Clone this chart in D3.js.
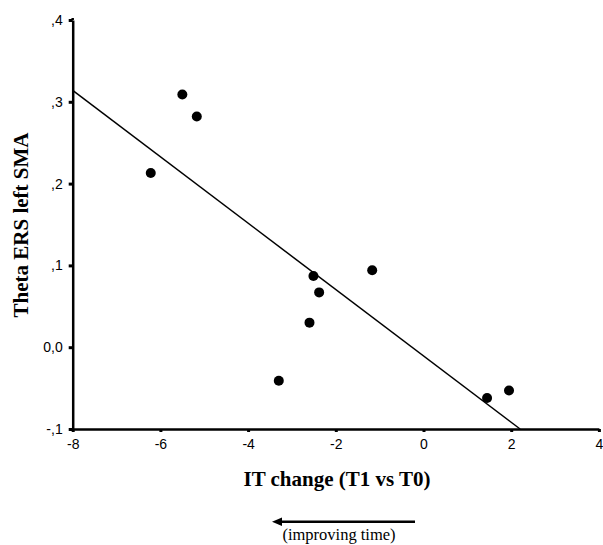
<!DOCTYPE html>
<html>
<head>
<meta charset="utf-8">
<script src="https://cdn.jsdelivr.net/npm/d3@7"></script>
<style>
  body { margin: 0; background: #fff; }
  .tick text { font-family: "Liberation Sans", Arial, sans-serif; font-size: 14px; fill: #000; }
</style>
</head>
<body>
<div id="chart"></div>
<script>
// values
var itChange = [-6.22, -5.50, -5.17, -2.51, -2.38, -2.60, -3.30, -1.17, 1.45, 1.95];
var thetaErs = [0.213, 0.309, 0.282, 0.087, 0.067, 0.030, -0.041, 0.094, -0.062, -0.053];

var xTicks = [-8, -6, -4, -2, 0, 2, 4];
var xTickLabels = ["-8", "-6", "-4", "-2", "0", "2", "4"];
var yTicks = [-0.1, 0, 0.1, 0.2, 0.3, 0.4];
var yTickLabels = ["-,1", "0,0", ",1", ",2", ",3", ",4"];

var width = 603, height = 545;

var svg = d3.select("#chart").append("svg")
    .attr("width", width)
    .attr("height", height);

var x = d3.scaleLinear().domain([-8, 4]).range([72.7, 598.9]);
var y = d3.scaleLinear().domain([-0.1, 0.4]).range([429, 20]);

// least squares fit line
var mx = d3.mean(itChange), my = d3.mean(thetaErs);
var sxy = d3.sum(itChange, function(d, i) { return (d - mx) * (thetaErs[i] - my); });
var sxx = d3.sum(itChange, function(d) { return (d - mx) * (d - mx); });
var slope = sxy / sxx;
var icept = my - slope * mx;
var xEnd = (-0.1 - icept) / slope;

svg.append("line")
    .attr("x1", x(-8))
    .attr("y1", y(icept + slope * -8))
    .attr("x2", x(xEnd))
    .attr("y2", y(-0.1))
    .attr("stroke", "#000")
    .attr("stroke-width", 1.5);

// axes
var yAxis = d3.axisLeft(y)
    .tickValues(yTicks)
    .tickFormat(function(d, i) { return yTickLabels[i]; })
    .tickSize(4)
    .tickSizeOuter(0)
    .tickPadding(6);

var xAxis = d3.axisBottom(x)
    .tickValues(xTicks)
    .tickFormat(function(d, i) { return xTickLabels[i]; })
    .tickSize(3)
    .tickSizeOuter(0)
    .tickPadding(7);

var gy = svg.append("g")
    .attr("transform", "translate(" + x(-8) + ",0)")
    .call(yAxis);

var gx = svg.append("g")
    .attr("transform", "translate(0," + y(-0.1) + ")")
    .call(xAxis);

[gy, gx].forEach(function(g) {
  g.select(".domain").attr("stroke-width", 2.5);
  g.selectAll(".tick line").attr("stroke-width", 3);
  g.attr("font-family", null).attr("font-size", null);
});

// y axis line runs a bit above the top tick
svg.append("line")
    .attr("x1", x(-8)).attr("x2", x(-8))
    .attr("y1", 18).attr("y2", y(0.4))
    .attr("stroke", "#000").attr("stroke-width", 2.5);

// points
svg.selectAll("circle.pt")
    .data(itChange)
    .enter().append("circle")
    .attr("class", "pt")
    .attr("cx", function(d) { return x(d); })
    .attr("cy", function(d, i) { return y(thetaErs[i]); })
    .attr("r", 5)
    .attr("fill", "#000");

// titles
svg.append("text")
    .attr("x", 337)
    .attr("y", 486)
    .attr("text-anchor", "middle")
    .style("font-family", "'Liberation Serif', 'Times New Roman', serif")
    .style("font-weight", "bold")
    .style("font-size", "21px")
    .text("IT change (T1 vs T0)");

svg.append("text")
    .attr("transform", "translate(28,225) rotate(-90)")
    .attr("text-anchor", "middle")
    .style("font-family", "'Liberation Serif', 'Times New Roman', serif")
    .style("font-weight", "bold")
    .style("font-size", "21px")
    .text("Theta ERS left SMA");

// arrow note
svg.append("line")
    .attr("x1", 415).attr("y1", 521.7)
    .attr("x2", 280).attr("y2", 521.7)
    .attr("stroke", "#000")
    .attr("stroke-width", 2.5);

svg.append("path")
    .attr("d", "M272,521.7 L282,517.5 L282,525.9 Z")
    .attr("fill", "#000");

svg.append("text")
    .attr("x", 339)
    .attr("y", 540)
    .attr("text-anchor", "middle")
    .style("font-family", "'Liberation Serif', 'Times New Roman', serif")
    .style("font-size", "16.5px")
    .text("(improving time)");
</script>
</body>
</html>
